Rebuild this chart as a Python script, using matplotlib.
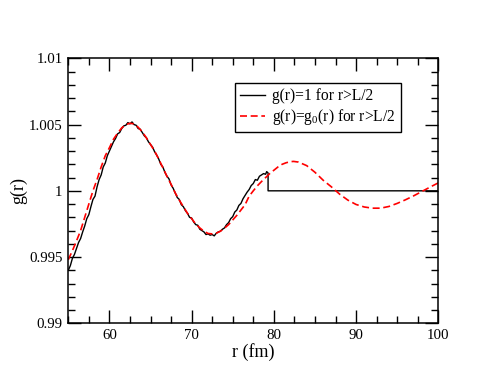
import numpy as np
import matplotlib.pyplot as plt
import matplotlib as mpl
from matplotlib.ticker import MultipleLocator, FormatStrFormatter

mpl.rcParams.update({'font.family': 'Liberation Serif', 'font.size': 10.7,
                     'mathtext.fontset': 'custom', 'mathtext.rm': 'Liberation Serif',
                     'mathtext.it': 'Liberation Serif'})

# g(r) with g(r)=g0(r) beyond L/2 (smooth, red dashed)
r_g0 = [55.0, 55.5, 56.0, 56.5, 57.0, 57.5, 58.0, 58.5, 59.0, 59.5,
        60.0, 60.5, 61.0, 61.5, 62.0, 62.5, 63.0, 63.5, 64.0, 64.5,
        65.0, 65.5, 66.0, 66.5, 67.0, 67.5, 68.0, 68.5, 69.0, 69.5,
        70.0, 70.5, 71.0, 71.5, 72.0, 72.5, 73.0, 73.5, 74.0, 74.5,
        75.0, 75.5, 76.0, 76.5, 77.0, 77.5, 78.0, 78.5, 79.0, 79.5,
        80.0, 80.5, 81.0, 81.5, 82.0, 82.4, 83.0, 84.0, 85.0, 86.0,
        87.0, 88.0, 89.0, 90.0, 91.0, 92.0, 93.0, 94.0, 95.0, 96.0,
        97.0, 98.0, 99.0, 100.0]
g_g0 = [0.99480, 0.99548, 0.99622, 0.99700, 0.99800, 0.99900, 1.00000, 1.00085, 1.00180, 1.00265,
        1.00325, 1.00390, 1.00435, 1.00475, 1.00500, 1.00510, 1.00505, 1.00480, 1.00445, 1.00400,
        1.00350, 1.00300, 1.00240, 1.00175, 1.00110, 1.00050, 0.99985, 0.99930, 0.99880, 0.99830,
        0.99790, 0.99750, 0.99720, 0.99695, 0.99678, 0.99675, 0.99680, 0.99695, 0.99718, 0.99745,
        0.99780, 0.99815, 0.99855, 0.99895, 0.99960, 1.00000, 1.00038, 1.00070, 1.00100, 1.00130,
        1.00155, 1.00180, 1.00200, 1.00212, 1.00220, 1.00222, 1.00217, 1.00190, 1.00140, 1.00080,
        1.00030, 0.99975, 0.99930, 0.99897, 0.99878, 0.99869, 0.99869, 0.99882, 0.99905, 0.99932,
        0.99962, 0.99995, 1.00028, 1.00060]

# g(r) with g(r)=1 beyond L/2 (noisy, black)
r_one = [55.00, 55.25, 55.50, 55.75, 56.00, 56.25, 56.50, 56.75, 57.00, 57.25,
         57.50, 57.75, 58.00, 58.25, 58.50, 58.75, 59.00, 59.25, 59.50, 59.75,
         60.00, 60.25, 60.50, 60.75, 61.00, 61.25, 61.50, 61.75, 62.00, 62.25,
         62.50, 62.75, 63.00, 63.25, 63.50, 63.75, 64.00, 64.25, 64.50, 64.75,
         65.00, 65.25, 65.50, 65.75, 66.00, 66.25, 66.50, 66.75, 67.00, 67.25,
         67.50, 67.75, 68.00, 68.25, 68.50, 68.75, 69.00, 69.25, 69.50, 69.75,
         70.00, 70.25, 70.50, 70.75, 71.00, 71.25, 71.50, 71.75, 72.00, 72.25,
         72.50, 72.75, 73.00, 73.25, 73.50, 73.75, 74.00, 74.25, 74.50, 74.75,
         75.00, 75.25, 75.50, 75.75, 76.00, 76.25, 76.50, 76.75, 77.00, 77.25,
         77.50, 77.75, 78.00, 78.25, 78.50, 78.75, 79.00, 79.13, 79.30, 79.30,
         100.0]
g_one = [0.99400, 0.99435, 0.99490, 0.99520, 0.99565, 0.99610, 0.99640, 0.99690, 0.99735, 0.99790,
         0.99820, 0.99880, 0.99935, 0.99960, 1.00030, 1.00085, 1.00120, 1.00180, 1.00210, 1.00265,
         1.00300, 1.00335, 1.00370, 1.00395, 1.00430, 1.00440, 1.00470, 1.00490, 1.00495, 1.00515,
         1.00505, 1.00520, 1.00500, 1.00495, 1.00470, 1.00465, 1.00440, 1.00415, 1.00400, 1.00370,
         1.00350, 1.00330, 1.00295, 1.00270, 1.00240, 1.00200, 1.00180, 1.00140, 1.00110, 1.00090,
         1.00045, 1.00020, 0.99985, 0.99950, 0.99935, 0.99895, 0.99880, 0.99850, 0.99830, 0.99800,
         0.99795, 0.99765, 0.99745, 0.99740, 0.99710, 0.99700, 0.99690, 0.99670, 0.99675, 0.99665,
         0.99670, 0.99660, 0.99680, 0.99690, 0.99695, 0.99710, 0.99720, 0.99745, 0.99760, 0.99790,
         0.99805, 0.99840, 0.99855, 0.99890, 0.99905, 0.99940, 0.99965, 0.99990, 1.00010, 1.00040,
         1.00055, 1.00085, 1.00080, 1.00110, 1.00120, 1.00130, 1.00125, 1.00145, 1.00135, 1.00000,
         1.00000]

fig = plt.figure(figsize=(4.93, 3.81), dpi=100)
ax1 = fig.add_axes([0.1385, 0.1514, 0.7505, 0.6955])

ax1.plot(r_one, g_one, color='black', lw=1.0, label='g(r)=1 for r>L/2')
ax1.plot(r_g0, g_g0, color='red', lw=1.2, dashes=(4.2, 2.2),
         label=r'g(r)=g$_0$(r) for r>L/2')

ax1.set_xlim(55, 100)
ax1.set_ylim(0.99, 1.01)
ax1.xaxis.set_major_locator(MultipleLocator(10))
ax1.xaxis.set_minor_locator(MultipleLocator(2.5))
ax1.yaxis.set_major_locator(MultipleLocator(0.005))
ax1.yaxis.set_minor_locator(MultipleLocator(0.001))
ax1.yaxis.set_major_formatter(FormatStrFormatter('%g'))
ax1.tick_params(which='both', direction='in', top=True, right=True, width=1.0)
ax1.tick_params(which='major', length=9.5, pad=4)
ax1.tick_params(which='minor', length=5)
for s in ax1.spines.values():
    s.set_linewidth(1.1)

ax1.set_xlabel('r (fm)', fontsize=13, labelpad=1)
ax1.set_ylabel('g(r)', fontsize=13, labelpad=1)

ax1.legend(loc='upper left', bbox_to_anchor=(0.4505, 0.9057), borderaxespad=0,
           fancybox=False, framealpha=1, edgecolor='black', handlelength=1.6,
           handletextpad=0.5, labelspacing=0.2, borderpad=0.3, fontsize=11.2)

plt.savefig('out.png', dpi=100)
